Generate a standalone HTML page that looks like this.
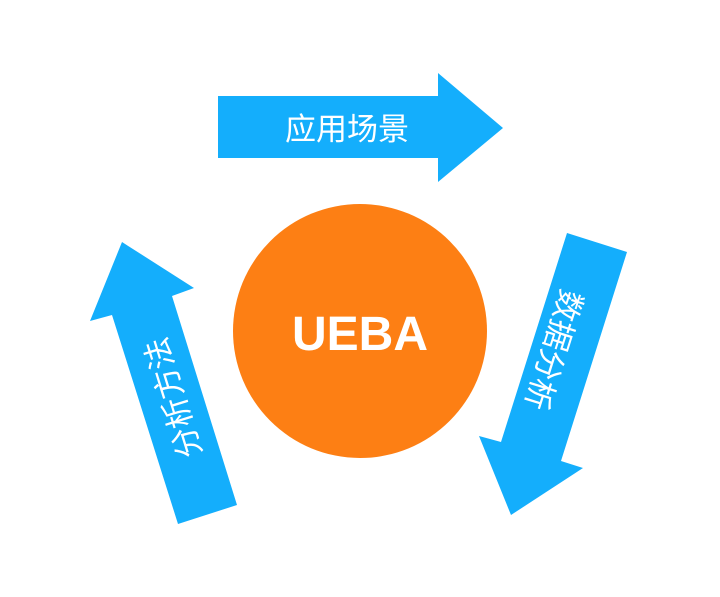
<!DOCTYPE html>
<html><head><meta charset="utf-8"><style>
html,body{margin:0;padding:0;background:#fff;}
svg text{font-family:"Liberation Sans","Noto Sans CJK SC",sans-serif;fill:#fff;}
</style></head><body>
<svg width="720" height="592" viewBox="0 0 720 592" xmlns="http://www.w3.org/2000/svg">
<polygon fill="#14aefc" points="218,96 438,96 438,73 503,128 438,182 438,158 218,158"/>
<polygon fill="#14aefc" points="567,233 627,252 561,461 583,468 511,515 479,436 501,442"/>
<polygon fill="#14aefc" points="122,242 194,288 172,296 237,505 178,524 112,315 90,321"/>
<circle cx="360" cy="331" r="127" fill="#fd7f14"/>
<text x="360" y="350" font-size="48" font-weight="bold" text-anchor="middle">UEBA</text>
<text x="347" y="140" font-size="31" text-anchor="middle">应用场景</text>
<text transform="translate(554,350) rotate(107.5)" x="0" y="11" font-size="31" text-anchor="middle">数据分析</text>
<text transform="translate(173,398) rotate(-107.2)" x="0" y="11" font-size="31" text-anchor="middle">分析方法</text>
</svg>
</body></html>
